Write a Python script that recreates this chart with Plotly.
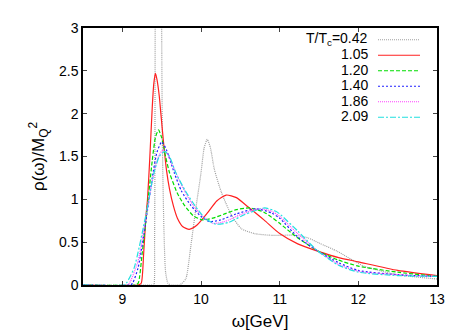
import plotly.graph_objects as go

# omega [GeV] / rho(omega)/M_Q^2
w_042 = [8.5, 9.38, 9.40, 9.41, 9.42, 9.45, 9.49, 9.50, 9.51, 9.53, 9.55, 9.58, 9.62,
         9.72, 9.76, 9.81, 9.87, 9.94, 10.0, 10.04, 10.08, 10.12, 10.17, 10.26, 10.38, 10.51,
         10.68, 10.9, 11.2, 11.36, 11.5, 11.74, 12.07, 12.5, 13.0]
r_042 = [0, 0, 0, 0.5, 4.0, 10.0, 6.0, 3.0, 1.6, 0.6, 0.15, 0.02, 0,
         0, 0.02, 0.08, 0.45, 0.93, 1.31, 1.6, 1.70, 1.6, 1.35, 1.08, 0.83, 0.66,
         0.60, 0.58, 0.58, 0.55, 0.49, 0.39, 0.22, 0.12, 0.07]

w_105 = [8.5, 9.2, 9.24, 9.27, 9.30, 9.32, 9.35, 9.38, 9.40, 9.42, 9.44, 9.47, 9.49, 9.52,
         9.56, 9.60, 9.65, 9.70, 9.77, 9.85, 9.95, 10.09, 10.2, 10.32, 10.45, 10.6, 10.8,
         11.0, 11.23, 11.5, 11.75, 12.0, 12.5, 13.0]
r_105 = [0, 0, 0.02, 0.35, 0.8, 1.0, 1.5, 2.07, 2.35, 2.47, 2.4, 2.2, 2.0, 1.7,
         1.35, 1.12, 0.92, 0.78, 0.68, 0.65, 0.70, 0.85, 0.98, 1.05, 1.02, 0.91, 0.76,
         0.60, 0.48, 0.39, 0.32, 0.27, 0.17, 0.11]

w_120 = [8.5, 9.15, 9.20, 9.25, 9.32, 9.38, 9.42, 9.46, 9.50, 9.55, 9.60, 9.70, 9.79, 9.9,
         10.02, 10.15, 10.3, 10.45, 10.62, 10.8, 11.0, 11.2, 11.48, 11.75, 12.0, 12.5, 13.0]
r_120 = [0, 0, 0.02, 0.35, 0.93, 1.45, 1.72, 1.81, 1.72, 1.5, 1.31, 1.07, 0.93, 0.81,
         0.76, 0.78, 0.83, 0.88, 0.90, 0.85, 0.72, 0.57, 0.40, 0.29, 0.22, 0.15, 0.10]

w_140 = [8.5, 9.10, 9.13, 9.2, 9.3, 9.38, 9.44, 9.50, 9.56, 9.66, 9.75, 9.87, 10.0, 10.11,
         10.25, 10.45, 10.70, 10.9, 11.0, 11.23, 11.48, 11.75, 12.0, 12.5, 13.0]
r_140 = [0, 0, 0.02, 0.2, 0.75, 1.25, 1.55, 1.67, 1.58, 1.31, 1.1, 0.93, 0.80, 0.74,
         0.76, 0.83, 0.89, 0.84, 0.78, 0.56, 0.40, 0.26, 0.17, 0.12, 0.10]

w_186 = [8.5, 9.06, 9.09, 9.2, 9.3, 9.4, 9.46, 9.52, 9.58, 9.68, 9.8, 9.9, 10.0, 10.15,
         10.3, 10.5, 10.74, 10.9, 11.0, 11.23, 11.48, 11.75, 12.0, 12.5, 13.0]
r_186 = [0, 0, 0.02, 0.28, 0.8, 1.3, 1.5, 1.58, 1.52, 1.31, 1.08, 0.93, 0.82, 0.72,
         0.74, 0.82, 0.89, 0.86, 0.80, 0.60, 0.40, 0.24, 0.16, 0.12, 0.10]

w_209 = [8.5, 9.02, 9.05, 9.15, 9.3, 9.4, 9.47, 9.54, 9.6, 9.68, 9.8, 9.92, 10.05, 10.19,
         10.35, 10.55, 10.81, 10.95, 11.0, 11.23, 11.48, 11.75, 12.0, 12.5, 13.0]
r_209 = [0, 0, 0.02, 0.2, 0.82, 1.3, 1.5, 1.56, 1.5, 1.31, 1.1, 0.93, 0.78, 0.71,
         0.73, 0.82, 0.90, 0.86, 0.83, 0.63, 0.40, 0.23, 0.15, 0.11, 0.10]

labels = ['T/T<sub>c</sub>=0.42', '1.05', '1.20', '1.40', '1.86', '2.09']
colors = ['#a0a0a0', '#ff2020', '#00dd00', '#2020ff', '#ff40ff', '#20e0e0']
dashes = ['1px,1px', 'solid', '4px,2px', '2px,2px', '1px,1px', '6px,2px,2px,2px']
series = [(w_042, r_042), (w_105, r_105), (w_120, r_120),
          (w_140, r_140), (w_186, r_186), (w_209, r_209)]

fig = go.Figure()
for (w, r), lab, c, d in zip(series, labels, colors, dashes):
    fig.add_trace(go.Scatter(x=w, y=r, mode='lines', name=lab, showlegend=False,
                             line=dict(color=c, width=1.2, dash=d, shape='spline', smoothing=0.6)))

# gnuplot-style legend: right-aligned text, line sample on its right
x0, x1 = 75, 429
y0, y1 = 19, 281
def px(x):
    return (x - x0) / (x1 - x0)
def py(y):
    return (y1 - y) / (y1 - y0)

for i, (lab, c, d) in enumerate(zip(labels, colors, dashes)):
    yy = 30 + i * 15.8
    fig.add_annotation(x=px(362), y=py(yy), xref='paper', yref='paper', text=lab,
                       showarrow=False, xanchor='right', yanchor='middle',
                       font=dict(size=14, color='black'))
    fig.add_shape(type='line', xref='paper', yref='paper', x0=px(370), x1=px(412),
                  y0=py(yy + 1), y1=py(yy + 1), line=dict(color=c, width=1.2, dash=d))

fig.update_layout(
    width=457, height=332,
    margin=dict(l=75, r=28, t=19, b=51),
    paper_bgcolor='white', plot_bgcolor='white',
    font=dict(family='Liberation Sans, Arial, sans-serif', size=14, color='black'),
    xaxis=dict(range=[8.5, 13], tickvals=[9, 10, 11, 12, 13], ticks='inside', ticklen=4,
               showline=True, linecolor='black', linewidth=1.5, mirror='allticks',
               showgrid=False, zeroline=False, title=dict(text='ω[GeV]', standoff=10)),
    yaxis=dict(range=[0, 3], tickvals=[0, 0.5, 1, 1.5, 2, 2.5, 3],
               ticktext=['0', '0.5', '1', '1.5', '2', '2.5', '3'], ticks='inside', ticklen=4,
               showline=True, linecolor='black', linewidth=1.5, mirror='allticks',
               showgrid=False, zeroline=False,
               title=dict(text='ρ(ω)/M<sub>Q</sub><sup>2</sup>', standoff=10)),
)

fig.write_html("out.html")
